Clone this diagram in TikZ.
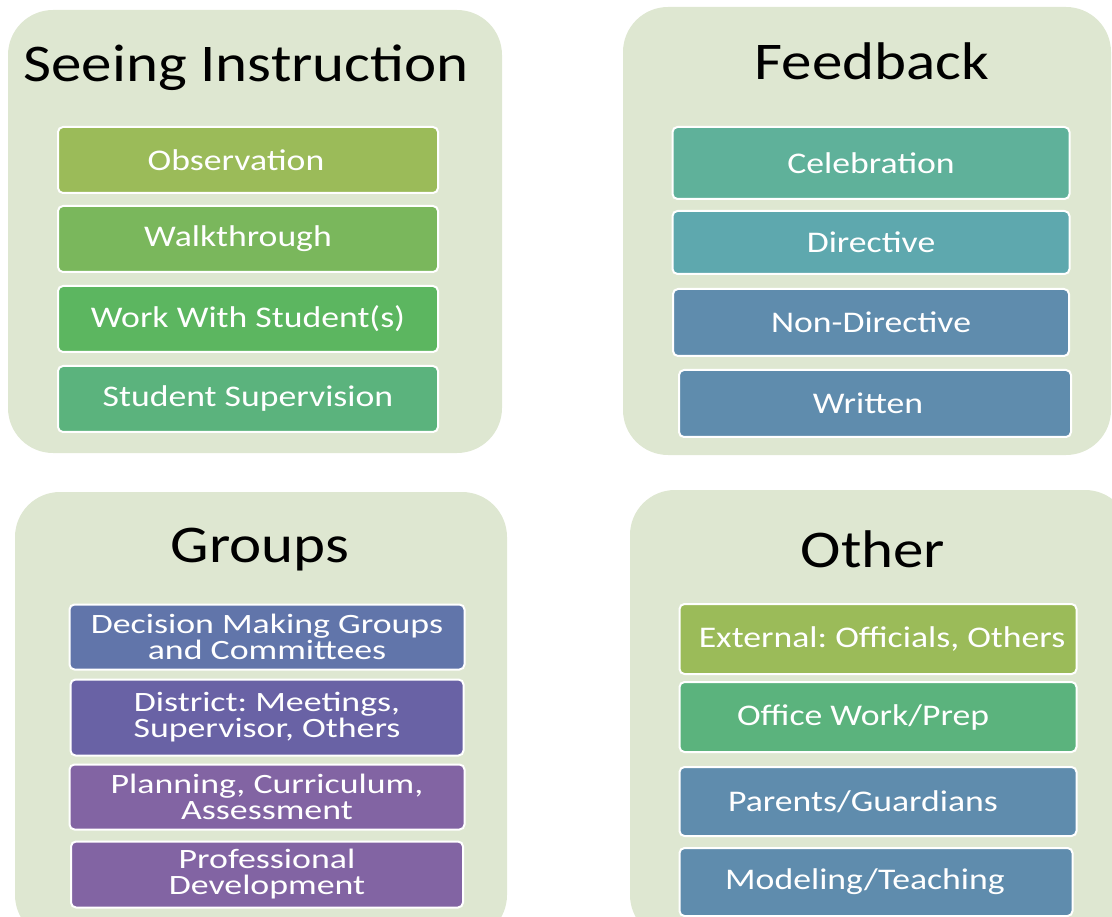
\documentclass[tikz,border=0pt]{standalone}
\usepackage{fontspec}
\setmainfont{Carlito}
\newfontfamily\headfont[FakeStretch=1.15]{Carlito}
\newfontfamily\itemfont[FakeStretch=1.19]{Carlito}
\newfontfamily\groupfont[FakeStretch=1.28]{Carlito}
\usetikzlibrary{positioning}
\frenchspacing

\definecolor{panelbg}{RGB}{222,231,209}
\definecolor{olivegreen}{RGB}{155,187,89}
\definecolor{leafgreen}{RGB}{122,183,92}
\definecolor{midgreen}{RGB}{92,182,96}
\definecolor{seagreen}{RGB}{91,179,125}
\definecolor{tealgreen}{RGB}{95,177,154}
\definecolor{tealblue}{RGB}{94,168,174}
\definecolor{steelblue}{RGB}{95,140,173}
\definecolor{slateblue}{RGB}{97,117,170}
\definecolor{indigo}{RGB}{105,98,165}
\definecolor{plum}{RGB}{130,100,163}

\begin{document}
\begin{tikzpicture}[
  x=1pt, y=-1pt,
  panel/.style={fill=panelbg, rounded corners=45pt},
  heading/.style={anchor=base, font=\headfont\fontsize{53}{60}\selectfont},
  item/.style={draw=white, line width=2pt, rounded corners=5pt, text=white,
    minimum height=66pt, inner sep=0pt, align=center,
    font=\itemfont\fontsize{30}{32}\selectfont},
  twoline/.style={item, font=\groupfont\fontsize{28}{26}\selectfont},
  nudge/.style={execute at begin node={\hspace*{#1}}}
]

\clip (0,0) rectangle (1112,917);

% Background panels
\fill[panel] (8,10) rectangle (502,453);
\fill[panel] (623,7) rectangle (1111,455);
\fill[panel] (15,492) rectangle (507,940);
\fill[panel] (630,490) rectangle (1130,940);

% Seeing Instruction
\node[heading] (seeing) at (246,82) {Seeing Instruction};
\node[item, fill=olivegreen, minimum width=380pt, nudge=-24pt] (obs) at (248,160) {Observation};
\node[item, fill=leafgreen, minimum width=380pt, nudge=-20pt, below=11pt of obs] (walk) {Walkthrough};
\node[item, fill=midgreen, minimum width=380pt, below=12pt of walk] (work) {Work With Student(s)};
\node[item, fill=seagreen, minimum width=380pt, below=12pt of work] (supervise) {Student Supervision};

% Feedback
\node[heading] (feedback) at (872,80) {Feedback};
\node[item, fill=tealgreen, minimum width=397pt, minimum height=72pt] (celebrate) at (871,163) {Celebration};
\node[item, fill=tealblue, minimum width=397pt, minimum height=63pt, below=10pt of celebrate] (directive) {Directive};
\node[item, fill=steelblue, minimum width=396pt, minimum height=67pt, below=13pt of directive] (nondirective) {Non-Directive};
\node[item, fill=steelblue, minimum width=392pt, minimum height=67pt, nudge=-14pt, below=12pt of nondirective, xshift=4pt] (written) {Written};

% Groups
\node[heading] (groups) at (260,562) {Groups};
\node[twoline, fill=slateblue, minimum width=395pt, minimum height=65pt] (decision) at (267,637) {Decision Making Groups\\and Committees};
\node[twoline, fill=indigo, minimum width=393pt, minimum height=76pt, below=8pt of decision] (district) {District: Meetings,\\Supervisor, Others};
\node[twoline, fill=plum, minimum width=395pt, minimum height=65pt, below=7pt of district] (planning) {Planning, Curriculum,\\Assessment};
\node[twoline, fill=plum, minimum width=392pt, minimum height=66pt, below=10pt of planning] (profdev) {Professional\\Development};

% Other
\node[heading] (other) at (873,567) {Other};
\node[item, fill=olivegreen, minimum width=397pt, minimum height=70pt, nudge=8pt] (external) at (878,639) {External: Officials, Others};
\node[item, fill=seagreen, minimum width=397pt, minimum height=70pt, nudge=-30pt, below=6pt of external] (office) {Office Work/Prep};
\node[item, fill=steelblue, minimum width=397pt, minimum height=69pt, nudge=-30pt, below=13pt of office] (parents) {Parents/Guardians};
\node[item, fill=steelblue, minimum width=393pt, minimum height=68pt, nudge=-22pt, below=10pt of parents, xshift=-2pt] (modeling) {Modeling/Teaching};

\end{tikzpicture}
\end{document}
